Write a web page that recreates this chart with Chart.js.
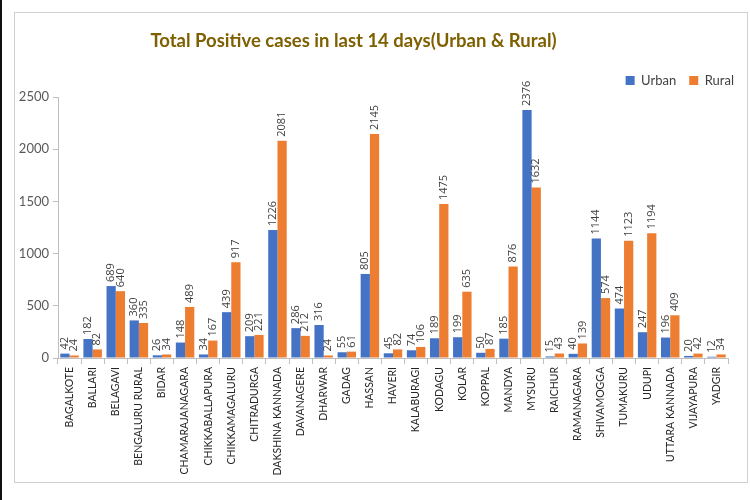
<!DOCTYPE html>
<html>
<head>
<meta charset="utf-8">
<script src="https://cdn.jsdelivr.net/npm/chart.js@4.4.1/dist/chart.umd.min.js"></script>
<style>
  html, body { margin: 0; padding: 0; background: #fff; }
  #wrap { position: relative; width: 750px; height: 500px; overflow: hidden; }
  #edge { position: absolute; left: 0; top: 0; width: 2px; height: 500px; background: #111; }
  #box { position: absolute; left: 14px; top: 12px; width: 732px; height: 469px; border: 1px solid #d0d0d0; }
  #title { position: absolute; left: 0; top: 29px; width: 707px; text-align: center;
           font: bold 18.5px/22px Lato, sans-serif; color: #7F6000; white-space: nowrap; }
  canvas { position: absolute; left: 0; top: 0; }
</style>
</head>
<body>
<div id="wrap">
  <div id="edge"></div>
  <div id="box"></div>
  <canvas id="c" width="750" height="500"></canvas>
  <div id="title">Total Positive cases in last 14 days(Urban &amp; Rural)</div>
</div>
<script>
const districts = ["BAGALKOTE","BALLARI","BELAGAVI","BENGALURU RURAL","BIDAR","CHAMARAJANAGARA","CHIKKABALLAPURA","CHIKKAMAGALURU","CHITRADURGA","DAKSHINA KANNADA","DAVANAGERE","DHARWAR","GADAG","HASSAN","HAVERI","KALABURAGI","KODAGU","KOLAR","KOPPAL","MANDYA","MYSURU","RAICHUR","RAMANAGARA","SHIVAMOGGA","TUMAKURU","UDUPI","UTTARA KANNADA","VIJAYAPURA","YADGIR"];
const urban = [42,182,689,360,26,148,34,439,209,1226,286,316,55,805,45,74,189,199,50,185,2376,15,40,1144,474,247,196,20,12];
const rural = [24,82,640,335,34,489,167,917,221,2081,212,24,61,2145,82,106,1475,635,87,876,1632,43,139,574,1123,1194,409,42,34];
const yTicks = [0,500,1000,1500,2000,2500];

const valueLabels = {
  id: 'valueLabels',
  afterDatasetsDraw(chart) {
    const ctx = chart.ctx;
    ctx.save();
    ctx.font = '11px "Open Sans", sans-serif';
    ctx.fillStyle = '#404040';
    ctx.textAlign = 'left';
    ctx.textBaseline = 'middle';
    chart.data.datasets.forEach((ds, di) => {
      const meta = chart.getDatasetMeta(di);
      meta.data.forEach((el, i) => {
        ctx.save();
        ctx.translate(el.x, el.y - 4);
        ctx.rotate(-Math.PI / 2);
        ctx.fillText(String(ds.data[i]), 0, 0);
        ctx.restore();
      });
    });
    ctx.restore();
  }
};

new Chart(document.getElementById('c'), {
  type: 'bar',
  data: {
    labels: districts,
    datasets: [
      { label: 'Urban', data: urban, backgroundColor: '#4472C4', categoryPercentage: 0.8, barPercentage: 1.0, yAxisID: 'y' },
      { label: 'Rural', data: rural, backgroundColor: '#ED7D31', categoryPercentage: 0.8, barPercentage: 1.0, yAxisID: 'y' }
    ]
  },
  options: {
    responsive: false,
    animation: false,
    layout: { padding: { left: 14, right: 3, top: 61, bottom: 4 } },
    plugins: {
      title: { display: false },
      legend: {
        display: true,
        position: 'top',
        align: 'end',
        labels: {
          boxWidth: 9, boxHeight: 9,
          color: '#404040',
          font: { family: 'Lato', size: 13 },
          padding: 13
        }
      },
      tooltip: { enabled: false }
    },
    scales: {
      x: {
        grid: { display: true, drawOnChartArea: false, tickLength: 6, color: '#bfbfbf', offset: true },
        border: { color: '#bfbfbf' },
        ticks: {
          minRotation: 90, maxRotation: 90, autoSkip: false,
          color: '#262626',
          font: { family: 'Lato', size: 10.5 },
          padding: 3
        },
        afterFit(scale) { scale.height = 138; }
      },
      y: {
        min: 0, max: 2500,
        grid: { display: true, drawOnChartArea: false, tickLength: 5, color: '#bfbfbf' },
        border: { color: '#bfbfbf' },
        afterBuildTicks(scale) { scale.ticks = yTicks.map(v => ({ value: v })); },
        ticks: {
          color: '#595959',
          font: { family: 'Lato', size: 13 },
          padding: 4,
          callback: (v) => String(v)
        },
        afterFit(scale) { scale.width = 44; }
      },
      yRightGap: {
        type: 'linear',
        position: 'right',
        display: true,
        grid: { display: false },
        border: { display: false },
        ticks: { display: false },
        afterFit(scale) { scale.width = 19; }
      }
    }
  },
  plugins: [valueLabels]
});
</script>
</body>
</html>
